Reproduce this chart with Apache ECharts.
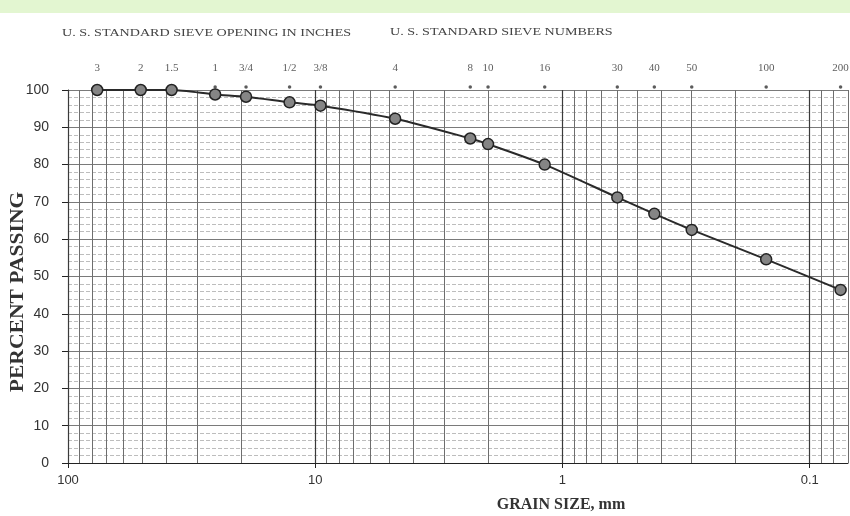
<!DOCTYPE html>
<html>
<head>
<meta charset="utf-8">
<script src="https://cdn.jsdelivr.net/npm/echarts@6/dist/echarts.min.js"></script>
<style>
html,body{margin:0;padding:0;background:#fff;}
#chart{width:850px;height:516px;}
</style>
</head>
<body>
<div id="chart"></div>
<script>
// ---- data ----
const sieveLabels = ['3','2','1.5','1','3/4','1/2','3/8','4','8','10','16','30','40','50','100','200'];
const grainSizeMm = [76.2, 50.8, 38.1, 25.4, 19.05, 12.7, 9.525, 4.75, 2.36, 2.0, 1.18, 0.6, 0.425, 0.3, 0.15, 0.075];
const percentPassing = [100, 100, 100, 98.8, 98.2, 96.7, 95.8, 92.3, 87.0, 85.5, 80.0, 71.2, 66.8, 62.5, 54.6, 46.4];
const xDecadeLabels = [100, 10, 1, 0.1];
const yTickLabels = [0, 10, 20, 30, 40, 50, 60, 70, 80, 90, 100];
const gridMultipliers = [2, 3, 4, 5, 6, 7, 8, 9];
const gridDecades = [0.01, 0.1, 1, 10];

const chart = echarts.init(document.getElementById('chart'), null, {renderer: 'canvas'});

const curveData = grainSizeMm.map((g, i) => [g, percentPassing[i]]);
const tickData = grainSizeMm.map((g, i) => ({value: [g, 100], name: sieveLabels[i]}));

const minorLines = [];
gridDecades.forEach(d => gridMultipliers.forEach(m => {
  const v = +(d * m).toPrecision(6);
  if (v >= 0.07 && v <= 100) minorLines.push({xAxis: v});
}));
const majorLines = [100, 10, 1, 0.1].map(v => ({xAxis: v}));

const serif = '"Liberation Serif", "DejaVu Serif", serif';
const sans = '"Liberation Sans", Arial, sans-serif';

chart.setOption({
  backgroundColor: '#ffffff',
  animation: false,
  grid: {left: 68, right: 2, top: 90, bottom: 53, containLabel: false},
  xAxis: {
    type: 'log', logBase: 10, min: 0.07, max: 100, inverse: true,
    axisLine: {show: true, lineStyle: {color: '#222', width: 1}},
    axisTick: {show: true, length: 5, lineStyle: {color: '#222'}},
    splitLine: {show: false},
    axisLabel: {
      color: '#333', fontFamily: sans, fontSize: 13, margin: 11,
      formatter: v => xDecadeLabels.some(d => Math.abs(Math.log10(v) - Math.log10(d)) < 1e-6) ? String(+(+v).toPrecision(6)) : '',
      showMinLabel: false
    }
  },
  yAxis: {
    type: 'value', min: 0, max: 100, interval: 10,
    axisLine: {show: true, lineStyle: {color: '#222', width: 1}},
    axisTick: {show: true, length: 6, lineStyle: {color: '#222'}},
    axisLabel: {color: '#333', fontFamily: sans, fontSize: 14, margin: 19,
      formatter: v => yTickLabels.includes(v) ? String(v) : ''},
    splitLine: {show: true, lineStyle: {color: '#7a7a7a', width: 1}},
    minorTick: {show: false, splitNumber: 5},
    minorSplitLine: {show: true, lineStyle: {color: '#bdbdbd', width: 1, type: [4, 2]}}
  },
  graphic: [
    {type: 'rect', left: 0, top: 0, shape: {width: 850, height: 13}, style: {fill: '#e3f6d1'}, silent: true},
    {type: 'text', x: 62, y: 33, scaleX: 1.28,
      style: {text: 'U. S. STANDARD SIEVE OPENING IN INCHES', font: '11px ' + serif, fill: '#444', textVerticalAlign: 'middle'}},
    {type: 'text', x: 390, y: 32, scaleX: 1.28,
      style: {text: 'U. S. STANDARD SIEVE NUMBERS', font: '11px ' + serif, fill: '#444', textVerticalAlign: 'middle'}},
    {type: 'text', x: 18, y: 292, rotation: Math.PI / 2, scaleX: 1.2,
      style: {text: 'PERCENT PASSING', font: 'bold 18px ' + serif, fill: '#333', textAlign: 'center', textVerticalAlign: 'middle'}},
    {type: 'text', x: 561, y: 505,
      style: {text: 'GRAIN SIZE, mm', font: 'bold 16px ' + serif, fill: '#333', textAlign: 'center', textVerticalAlign: 'middle'}}
  ],
  series: [
    {
      name: 'grid', type: 'line', data: [], silent: true,
      markLine: {symbol: 'none', silent: true, label: {show: false}, animation: false,
        lineStyle: {color: '#6e6e6e', width: 1, type: 'solid'}, data: minorLines}
    },
    {
      name: 'gridMajor', type: 'line', data: [], silent: true,
      markLine: {symbol: 'none', silent: true, label: {show: false}, animation: false,
        lineStyle: {color: '#3a3a3a', width: 1.2, type: 'solid'}, data: majorLines}
    },
    {
      name: 'sieves', type: 'scatter', data: tickData, clip: false, silent: true,
      symbol: 'circle', symbolSize: 3.5, symbolOffset: [0, -3],
      itemStyle: {color: '#333'},
      label: {show: true, position: 'top', distance: 12, formatter: p => p.name,
        fontFamily: serif, fontSize: 11, color: '#333'}
    },
    {
      name: 'Percent passing', type: 'line', data: curveData, smooth: 0.25,
      symbol: 'circle', symbolSize: 11, showSymbol: true, clip: false,
      lineStyle: {color: '#2a2a2a', width: 2},
      itemStyle: {color: '#858585', borderColor: '#222', borderWidth: 1.5},
      z: 5
    }
  ]
});
</script>
</body>
</html>
